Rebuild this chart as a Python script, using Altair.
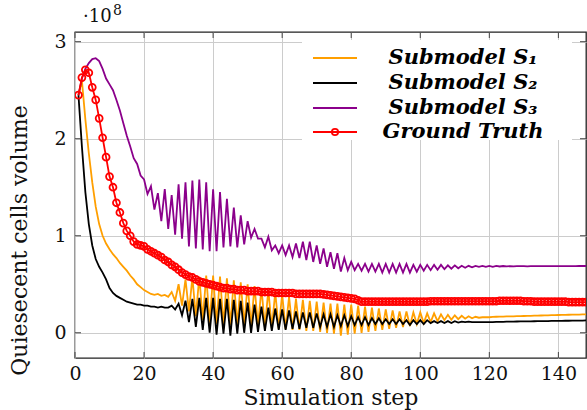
import altair as alt
import pandas as pd

# ---------------- data (values in units of 1e8) ----------------
steps = list(range(1, 149))

s1 = [2.45, 2.60, 2.20, 1.85, 1.55, 1.30, 1.12, 1.00, 0.92, 0.86,
      0.81, 0.77, 0.72, 0.68, 0.64, 0.59, 0.55, 0.50, 0.47, 0.44,
      0.42, 0.40, 0.39, 0.40, 0.38, 0.39, 0.37, 0.42, 0.33, 0.50,
      0.28, 0.55, 0.22, 0.57, 0.17, 0.58, 0.13, 0.59, 0.10, 0.59,
      0.09, 0.58, 0.08, 0.56, 0.08, 0.54, 0.08, 0.52, 0.08, 0.50,
      0.07, 0.48, 0.07, 0.46, 0.06, 0.44, 0.05, 0.42, 0.04, 0.40,
      0.04, 0.37, 0.03, 0.35, 0.03, 0.34, 0.02, 0.33, 0.02, 0.32,
      0.01, 0.31, 0.00, 0.30, -0.01, 0.30, -0.03, 0.29, -0.02, 0.29,
      -0.01, 0.28, 0.00, 0.27, 0.01, 0.26, 0.02, 0.25, 0.03, 0.24,
      0.04, 0.23, 0.05, 0.22, 0.06, 0.22, 0.07, 0.21, 0.09, 0.21,
      0.10, 0.20, 0.11, 0.20, 0.12, 0.19, 0.13, 0.185, 0.135, 0.18,
      0.14, 0.175, 0.145, 0.17, 0.15, 0.165, 0.155, 0.16, 0.16, 0.16,
      0.163, 0.165, 0.166, 0.167, 0.168, 0.169, 0.17, 0.171, 0.172, 0.173,
      0.174, 0.175, 0.176, 0.177, 0.178, 0.179, 0.18, 0.181, 0.182, 0.183,
      0.184, 0.185, 0.186, 0.187, 0.188, 0.188, 0.189, 0.19]

s2 = [2.45, 1.92, 1.45, 1.12, 0.90, 0.76, 0.68, 0.62, 0.55, 0.46,
      0.41, 0.38, 0.36, 0.34, 0.32, 0.31, 0.30, 0.29, 0.29, 0.28,
      0.28, 0.27, 0.27, 0.26, 0.27, 0.26, 0.26, 0.28, 0.24, 0.30,
      0.18, 0.33, 0.11, 0.35, 0.06, 0.36, 0.03, 0.36, 0.00, 0.36,
      -0.02, 0.35, -0.01, 0.35, -0.03, 0.34, -0.01, 0.33, 0.00, 0.31,
      0.00, 0.29, 0.01, 0.27, 0.02, 0.26, 0.02, 0.25, 0.03, 0.24,
      0.03, 0.23, 0.04, 0.22, 0.04, 0.21, 0.05, 0.21, 0.05, 0.20,
      0.06, 0.19, 0.06, 0.19, 0.06, 0.18, 0.07, 0.18, 0.07, 0.17,
      0.08, 0.16, 0.08, 0.16, 0.08, 0.15, 0.09, 0.15, 0.09, 0.14,
      0.09, 0.14, 0.09, 0.14, 0.09, 0.13, 0.08, 0.13, 0.09, 0.13,
      0.09, 0.13, 0.10, 0.12, 0.10, 0.12, 0.10, 0.12, 0.10, 0.12,
      0.105, 0.115, 0.11, 0.115, 0.11, 0.11, 0.11, 0.11, 0.11, 0.11,
      0.11, 0.112, 0.112, 0.113, 0.114, 0.115, 0.115, 0.116, 0.117, 0.117,
      0.118, 0.118, 0.119, 0.12, 0.12, 0.121, 0.121, 0.122, 0.122, 0.123,
      0.123, 0.124, 0.124, 0.125, 0.125, 0.126, 0.126, 0.127]

s3 = [2.45, 2.62, 2.72, 2.78, 2.82, 2.83, 2.80, 2.72, 2.62, 2.56,
      2.50, 2.40, 2.29, 2.16, 2.03, 1.92, 1.80, 1.74, 1.62, 1.58,
      1.43, 1.51, 1.27, 1.44, 1.15, 1.48, 1.07, 1.42, 1.01, 1.53,
      0.97, 1.55, 0.89, 1.57, 0.87, 1.58, 0.86, 1.55, 0.84, 1.48,
      0.84, 1.45, 0.88, 1.38, 0.89, 1.29, 0.88, 1.21, 0.91, 1.15,
      0.98, 1.07, 0.97, 0.97, 0.88, 0.99, 0.85, 0.90, 0.82, 0.90,
      0.80, 0.90, 0.78, 0.92, 0.77, 0.94, 0.75, 0.94, 0.73, 0.90,
      0.71, 0.87, 0.68, 0.83, 0.66, 0.82, 0.63, 0.77, 0.645, 0.73,
      0.645, 0.71, 0.64, 0.71, 0.63, 0.71, 0.63, 0.71, 0.62, 0.71,
      0.62, 0.71, 0.62, 0.71, 0.62, 0.71, 0.62, 0.70, 0.63, 0.70,
      0.64, 0.70, 0.645, 0.70, 0.65, 0.70, 0.655, 0.695, 0.66, 0.695,
      0.665, 0.69, 0.67, 0.69, 0.675, 0.69, 0.68, 0.69, 0.68, 0.69,
      0.68, 0.69, 0.683, 0.688, 0.685, 0.687, 0.685, 0.687, 0.686, 0.687,
      0.685, 0.687, 0.686, 0.686, 0.687, 0.686, 0.686, 0.687, 0.686, 0.686,
      0.687, 0.686, 0.686, 0.687, 0.687, 0.688, 0.688, 0.688]

gt = [2.45, 2.63, 2.71, 2.68, 2.53, 2.40, 2.21, 2.01, 1.81, 1.61,
      1.50, 1.34, 1.24, 1.13, 1.05, 1.00, 0.94, 0.91, 0.90, 0.89,
      0.86, 0.84, 0.82, 0.80, 0.78, 0.75, 0.73, 0.70, 0.68, 0.65,
      0.62, 0.60, 0.58, 0.57, 0.55, 0.53, 0.52, 0.51, 0.50, 0.49,
      0.48, 0.47, 0.46, 0.46, 0.45, 0.45, 0.44, 0.44, 0.44, 0.43,
      0.43, 0.43, 0.43, 0.42, 0.42, 0.42, 0.42, 0.41, 0.41, 0.41,
      0.41, 0.41, 0.41, 0.40, 0.40, 0.40, 0.40, 0.40, 0.40, 0.40,
      0.40, 0.395, 0.39, 0.385, 0.38, 0.375, 0.37, 0.365, 0.36, 0.355,
      0.35, 0.335, 0.32, 0.32, 0.32, 0.32, 0.32, 0.32, 0.32, 0.32,
      0.32, 0.32, 0.32, 0.32, 0.32, 0.32, 0.32, 0.32, 0.32, 0.32,
      0.32, 0.32, 0.325, 0.325, 0.325, 0.325, 0.325, 0.325, 0.325, 0.325,
      0.325, 0.325, 0.325, 0.325, 0.325, 0.325, 0.325, 0.325, 0.325, 0.325,
      0.325, 0.325, 0.33, 0.33, 0.33, 0.33, 0.33, 0.33, 0.33, 0.325,
      0.325, 0.325, 0.32, 0.32, 0.32, 0.32, 0.32, 0.32, 0.32, 0.32,
      0.32, 0.32, 0.315, 0.315, 0.315, 0.315, 0.315, 0.315]

series_names = ["Submodel S\u2081", "Submodel S\u2082", "Submodel S\u2083", "Ground Truth"]
series_colors = ["#ff9f00", "#000000", "#8b008b", "#ff0000"]
x_ticks = [0, 20, 40, 60, 80, 100, 120, 140]
y_ticks = [0, 1, 2, 3]

# ---------------- layout ----------------
W, H = 511, 326
FONT = "DejaVu Serif"

xs = alt.Scale(domain=[0, 148], nice=False, zero=False)
ys = alt.Scale(domain=[-0.26, 3.10], nice=False, zero=False)

xaxis = alt.Axis(values=x_ticks, grid=True, gridColor="#cccccc", gridWidth=1,
                 domain=False, ticks=False, labelFont=FONT, labelFontSize=19,
                 labelColor="#111111", labelPadding=6, labelFlush=False,
                 title="Simulation step", titleFont=FONT, titleFontSize=22,
                 titleFontWeight="normal", titleColor="#111111",
                 titleY=46, titleBaseline="alphabetic")
yaxis = alt.Axis(values=y_ticks, format="d", grid=True, gridColor="#cccccc",
                 gridWidth=1, domain=False, ticks=False, labelFont=FONT,
                 labelFontSize=19, labelColor="#111111", labelPadding=9,
                 title="Quiesecent cells volume", titleFont=FONT,
                 titleFontSize=22, titleFontWeight="normal",
                 titleColor="#111111", titleX=-56, titleY=208,
                 titleAngle=270, titleBaseline="middle", titleAlign="center")


def X(field):
    return alt.X(f"{field}:Q", scale=xs, axis=xaxis)


def Y(field):
    return alt.Y(f"{field}:Q", scale=ys, axis=yaxis)


def frame(vals):
    return pd.DataFrame({"step": steps, "v": vals})


layers = []
for vals, col in zip([s1, s2, s3], series_colors[:3]):
    layers.append(alt.Chart(frame(vals)).mark_line(color=col, strokeWidth=1.8,
                                                   clip=True).encode(x=X("step"), y=Y("v")))

gdf = frame(gt)
layers.append(alt.Chart(gdf).mark_line(color=series_colors[3], strokeWidth=1.8,
                                       clip=True).encode(x=X("step"), y=Y("v")))
layers.append(alt.Chart(gdf).mark_point(shape="circle", filled=False,
                                        color=series_colors[3], size=48,
                                        strokeWidth=1.8, opacity=1,
                                        clip=True).encode(x=X("step"), y=Y("v")))

# inside ticks (pgfplots style)
xt = pd.DataFrame({"t": x_ticks})
yt = pd.DataFrame({"t": y_ticks})
tick_col = "#444444"
layers.append(alt.Chart(xt).mark_rule(color=tick_col, strokeWidth=1).encode(
    x=X("t"), y=alt.value(H), y2=alt.value(H - 6)))
layers.append(alt.Chart(xt).mark_rule(color=tick_col, strokeWidth=1).encode(
    x=X("t"), y=alt.value(0), y2=alt.value(6)))
layers.append(alt.Chart(yt).mark_rule(color=tick_col, strokeWidth=1).encode(
    y=Y("t"), x=alt.value(0), x2=alt.value(6)))
layers.append(alt.Chart(yt).mark_rule(color=tick_col, strokeWidth=1).encode(
    y=Y("t"), x=alt.value(W - 6), x2=alt.value(W)))

# legend (manual)
one = pd.DataFrame({"a": [0]})
layers.append(alt.Chart(one).mark_rect(fill="white").encode(
    x=alt.value(227), x2=alt.value(497), y=alt.value(8), y2=alt.value(108)))
row_y = [26, 51, 76, 100]
for name, col, ry in zip(series_names, series_colors, row_y):
    layers.append(alt.Chart(one).mark_rule(color=col, strokeWidth=1.8).encode(
        x=alt.value(238), x2=alt.value(282), y=alt.value(ry)))
    layers.append(alt.Chart(one).mark_text(text=name, font=FONT, fontSize=21,
                                           fontStyle="italic", fontWeight="bold",
                                           color="#000000", align="center",
                                           baseline="middle").encode(
        x=alt.value(388), y=alt.value(ry)))
layers.append(alt.Chart(one).mark_point(shape="circle", filled=False,
                                        color=series_colors[3], size=40,
                                        strokeWidth=1.8, opacity=1).encode(
    x=alt.value(260), y=alt.value(row_y[3])))

# scale factor label
layers.append(alt.Chart(one).mark_text(text="\u00b710", font=FONT, fontSize=18,
                                       color="#111111", align="left",
                                       baseline="alphabetic").encode(
    x=alt.value(8), y=alt.value(-10)))
layers.append(alt.Chart(one).mark_text(text="8", font=FONT, fontSize=14,
                                       color="#111111", align="left",
                                       baseline="alphabetic").encode(
    x=alt.value(38), y=alt.value(-17)))

chart = alt.layer(*layers).properties(
    width=W, height=H,
    autosize=alt.AutoSizeParams(type="none"),
    padding={"left": 75, "top": 32, "right": 1, "bottom": 52},
    background="white",
).configure_view(stroke="#222222", strokeWidth=1.3)

chart.save("out.html", embed_options={"renderer": "svg", "actions": False})
